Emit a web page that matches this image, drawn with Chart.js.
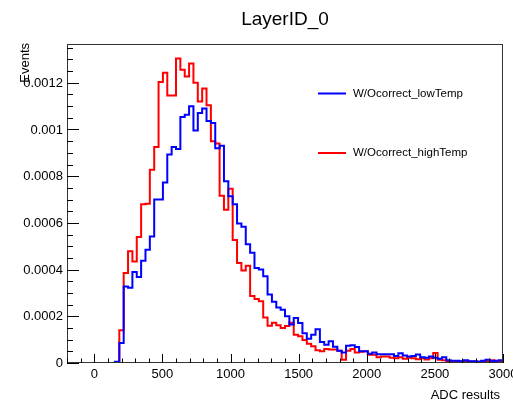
<!DOCTYPE html>
<html>
<head>
<meta charset="utf-8">
<script src="https://cdn.jsdelivr.net/npm/chart.js@4.4.0/dist/chart.umd.min.js"></script>
<style>
  html, body { margin: 0; padding: 0; background: #ffffff; }
  #wrap { width: 513px; height: 402px; }
</style>
</head>
<body>
<div id="wrap"><canvas id="c" width="513" height="402"></canvas></div>
<script>
// Histogram binning: 100 bins of 32 ADC counts starting at -200
const binLow = -200;
const binWidth = 32;
const nBins = 100;

const histTitle = 'LayerID_0';
const xTitle = 'ADC results';
const yTitle = 'Events';
const seriesNames = ['W/Ocorrect_lowTemp', 'W/Ocorrect_highTemp'];

// Normalised bin contents, low temperature run
const lowTemp = [
  0, 0, 0, 0, 0, 0, 0, 0, 0, 0,
  0, 0.000005, 0.000086, 0.000328, 0.000322, 0.00039, 0.000368, 0.000438, 0.000485, 0.000542,
  0.0007, 0.0007, 0.000773, 0.000893, 0.000925, 0.000916, 0.001053, 0.001063, 0.001099, 0.000996,
  0.00107, 0.00109, 0.001036, 0.001028, 0.00092, 0.00093, 0.000778, 0.000714, 0.00068, 0.000597,
  0.000583, 0.000509, 0.000472, 0.000407, 0.0004, 0.000372, 0.000293, 0.000262, 0.000238, 0.000228,
  0.0002, 0.000165, 0.000193, 0.000171, 0.000127, 0.000104, 0.000121, 0.000144, 0.00009, 0.000078,
  0.000093, 0.00007, 0.000052, 0.000045, 0.000074, 0.000076, 0.000068, 0.00005, 0.00005, 0.00004,
  0.000045, 0.000038, 0.000038, 0.000038, 0.000038, 0.00003, 0.000042, 0.000032, 0.000028, 0.00003,
  0.000036, 0.000025, 0.000022, 0.000028, 0.000022, 0.000018, 0.000025, 0.000012, 0.00001, 0.00001,
  0.000008, 0.000012, 0.000008, 0.000008, 0.000006, 0.00001, 0.000014, 0.000008, 0.00001, 0.000012
];

// Normalised bin contents, high temperature run
const highTemp = [
  0, 0, 0, 0, 0, 0, 0, 0, 0, 0,
  0, 0.000003, 0.00014, 0.000385, 0.000478, 0.000435, 0.00054, 0.00068, 0.000682, 0.000828,
  0.000925, 0.001203, 0.001243, 0.001146, 0.001146, 0.001304, 0.001256, 0.001227, 0.001282, 0.0012,
  0.00112, 0.001175, 0.001104, 0.00095, 0.00094, 0.000716, 0.000656, 0.000746, 0.000527, 0.000428,
  0.000396, 0.000416, 0.000287, 0.000274, 0.000264, 0.000195, 0.00016, 0.000172, 0.000162, 0.00015,
  0.000158, 0.000172, 0.000121, 0.000115, 0.000098, 0.000082, 0.000072, 0.000055, 0.00005, 0.00006,
  0.000058, 0.000058, 0.000052, 0.000014, 0.000052, 0.00006, 0.000045, 0.000048, 0.00005, 0.000035,
  0.000035, 0.000025, 0.000028, 0.000028, 0.000022, 0.00002, 0.000025, 0.000018, 0.000022, 0.00002,
  0.000016, 0.00002, 0.000015, 0.00002, 0.000043, 0.000014, 0.000012, 0.000008, 0.000006, 0.000008,
  0.000006, 0.000004, 0.000006, 0.000006, 0.000004, 0.000004, 0.000008, 0.000012, 0.000006, 0.000004
];

// Axis tick labels
const xTicks = [0, 500, 1000, 1500, 2000, 2500, 3000];
const yTicks = [0, 0.0002, 0.0004, 0.0006, 0.0008, 0.001, 0.0012];
const xMinorStep = 100;
const yMinorStep = 0.00005;
const xRange = [-200, 3000];
const yRange = [0, 0.001366];

const lowColor = '#0000ff';
const highColor = '#ff0000';

// Step outline points: one per bin low edge plus the final upper edge
function outline(values) {
  const pts = values.map((v, i) => ({ x: binLow + i * binWidth, y: v }));
  pts.push({ x: binLow + nBins * binWidth, y: values[values.length - 1] });
  return pts;
}

const FONT = '"Liberation Sans", Arial, Helvetica, sans-serif';

// Frame, inward ticks, labels, titles and legend in the ROOT canvas style
const rootStyle = {
  id: 'rootStyle',
  afterDatasetsDraw(chart) {
    const ctx = chart.ctx;
    const a = chart.chartArea;
    const xs = chart.scales.x;
    const ys = chart.scales.y;
    ctx.save();

    // frame
    ctx.strokeStyle = '#333333';
    ctx.lineWidth = 1;
    ctx.strokeRect(Math.round(a.left) + 0.5, Math.round(a.top) + 0.5,
                   Math.round(a.right - a.left) - 1, Math.round(a.bottom - a.top) - 1);

    ctx.strokeStyle = '#000000';
    ctx.beginPath();
    // x ticks (minor and major), pointing up from the bottom edge
    for (let v = xRange[0]; v <= xRange[1] + 1e-9; v += xMinorStep) {
      const px = Math.round(xs.getPixelForValue(v)) + 0.5;
      const major = xTicks.includes(v);
      ctx.moveTo(px, a.bottom);
      ctx.lineTo(px, a.bottom - (major ? 9 : 4.5));
    }
    // y ticks, pointing right from the left edge
    const nMinor = Math.round((yRange[1] - yRange[0]) / yMinorStep);
    for (let i = 0; i <= nMinor; i++) {
      const v = yRange[0] + i * yMinorStep;
      if (v > yRange[1]) break;
      const py = Math.round(ys.getPixelForValue(v)) + 0.5;
      const major = i % 4 === 0;
      ctx.moveTo(a.left, py);
      ctx.lineTo(a.left + (major ? 12 : 6), py);
    }
    ctx.stroke();

    // tick labels
    ctx.fillStyle = '#000000';
    ctx.font = '13px ' + FONT;
    ctx.textAlign = 'center';
    ctx.textBaseline = 'alphabetic';
    xs.ticks.forEach(t => {
      ctx.fillText(String(t.value), xs.getPixelForValue(t.value), a.bottom + 14.5);
    });
    ctx.textAlign = 'right';
    ctx.textBaseline = 'middle';
    ys.ticks.forEach(t => {
      const lbl = t.value === 0 ? '0' : String(+t.value.toFixed(4));
      ctx.fillText(lbl, a.left - 4, ys.getPixelForValue(t.value) + 0.5);
    });

    // axis titles
    ctx.font = '13px ' + FONT;
    ctx.textAlign = 'right';
    ctx.textBaseline = 'alphabetic';
    ctx.fillText(xTitle, a.right - 3, a.bottom + 36);
    ctx.save();
    ctx.translate(29, a.top - 1);
    ctx.rotate(-Math.PI / 2);
    ctx.textAlign = 'right';
    ctx.fillText(yTitle, 0, 0);
    ctx.restore();

    // histogram title
    ctx.font = '19px ' + FONT;
    ctx.textAlign = 'center';
    ctx.fillText(histTitle, (a.left + a.right) / 2, 25);

    // legend
    const entries = [
      { name: seriesNames[0], color: lowColor, y: 93.5 },
      { name: seriesNames[1], color: highColor, y: 153 }
    ];
    ctx.font = '11.5px ' + FONT;
    ctx.textAlign = 'left';
    ctx.textBaseline = 'middle';
    entries.forEach(e => {
      ctx.strokeStyle = e.color;
      ctx.lineWidth = 2;
      ctx.beginPath();
      ctx.moveTo(318, e.y);
      ctx.lineTo(346, e.y);
      ctx.stroke();
      ctx.fillStyle = '#000000';
      ctx.fillText(e.name, 353, e.y);
    });

    ctx.restore();
  }
};

new Chart(document.getElementById('c'), {
  type: 'line',
  data: {
    datasets: [
      {
        label: seriesNames[0],
        data: outline(lowTemp),
        borderColor: lowColor,
        borderWidth: 2,
        stepped: 'before',
        pointRadius: 0,
        fill: false,
        borderJoinStyle: 'miter',
        borderCapStyle: 'butt'
      },
      {
        label: seriesNames[1],
        data: outline(highTemp),
        borderColor: highColor,
        borderWidth: 2,
        stepped: 'before',
        pointRadius: 0,
        fill: false,
        borderJoinStyle: 'miter',
        borderCapStyle: 'butt'
      }
    ]
  },
  options: {
    responsive: false,
    animation: false,
    devicePixelRatio: 1,
    parsing: false,
    normalized: true,
    layout: { padding: { left: 67, top: 44, right: 10, bottom: 39 } },
    plugins: {
      legend: { display: false },
      title: { display: false },
      tooltip: { enabled: false }
    },
    scales: {
      x: {
        type: 'linear',
        min: xRange[0],
        max: xRange[1],
        ticks: { display: false },
        grid: { display: false },
        border: { display: false },
        afterBuildTicks: s => { s.ticks = xTicks.map(v => ({ value: v })); },
        afterFit: s => { s.height = 0; }
      },
      y: {
        type: 'linear',
        min: yRange[0],
        max: yRange[1],
        ticks: { display: false },
        grid: { display: false },
        border: { display: false },
        afterBuildTicks: s => { s.ticks = yTicks.map(v => ({ value: v })); },
        afterFit: s => { s.width = 0; }
      }
    }
  },
  plugins: [rootStyle]
});
</script>
</body>
</html>
